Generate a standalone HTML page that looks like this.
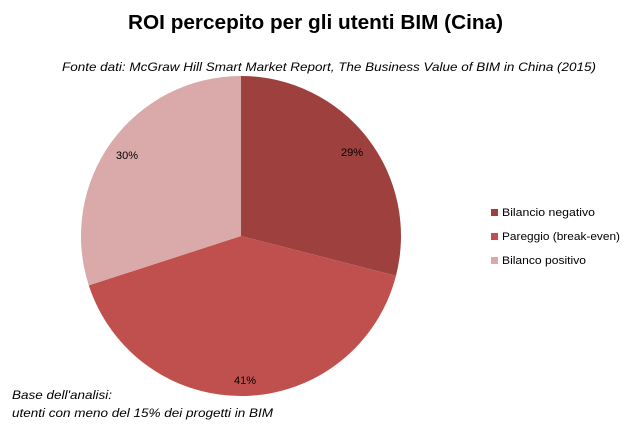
<!DOCTYPE html>
<html><head><style>
body{margin:0;background:#fff;}
svg text{font-family:"Liberation Sans",sans-serif;}
</style></head><body>
<svg width="633" height="434" viewBox="0 0 633 434" xmlns="http://www.w3.org/2000/svg">
<rect width="633" height="434" fill="#fff"/>
<text x="128" y="29" font-size="20" font-weight="bold" textLength="375" lengthAdjust="spacingAndGlyphs" fill="#000">ROI percepito per gli utenti BIM (Cina)</text>
<text x="62" y="71" font-size="12" font-style="italic" textLength="534" lengthAdjust="spacingAndGlyphs" fill="#000">Fonte dati: McGraw Hill Smart Market Report, The Business Value  of BIM in China (2015)</text>
<path d="M241,236 L241,76 A160,160 0 0 1 395.97,275.8 Z" fill="#9E413E"/>
<path d="M241,236 L395.97,275.8 A160,160 0 0 1 88.8,285.4 Z" fill="#C0504D"/>
<path d="M241,236 L88.8,285.4 A160,160 0 0 1 241,76 Z" fill="#D9AAA9"/>
<text x="341" y="156" font-size="11" fill="#000">29%</text>
<text x="234" y="384" font-size="11" fill="#000">41%</text>
<text x="116" y="159" font-size="11" fill="#000">30%</text>
<rect x="491" y="209" width="7" height="7" fill="#9E413E"/>
<text x="502" y="216" font-size="11" textLength="93" lengthAdjust="spacingAndGlyphs" fill="#000">Bilancio negativo</text>
<rect x="491" y="233" width="7" height="7" fill="#C0504D"/>
<text x="502" y="240" font-size="11" textLength="118" lengthAdjust="spacingAndGlyphs" fill="#000">Pareggio (break-even)</text>
<rect x="491" y="257" width="7" height="7" fill="#D9AAA9"/>
<text x="502" y="264" font-size="11" textLength="84" lengthAdjust="spacingAndGlyphs" fill="#000">Bilanco positivo</text>
<text x="12" y="399" font-size="12" font-style="italic" textLength="100" lengthAdjust="spacingAndGlyphs" fill="#000">Base dell'analisi:</text>
<text x="12" y="417" font-size="12" font-style="italic" textLength="261" lengthAdjust="spacingAndGlyphs" fill="#000">utenti con meno del 15% dei progetti in  BIM</text>
</svg>
</body></html>
